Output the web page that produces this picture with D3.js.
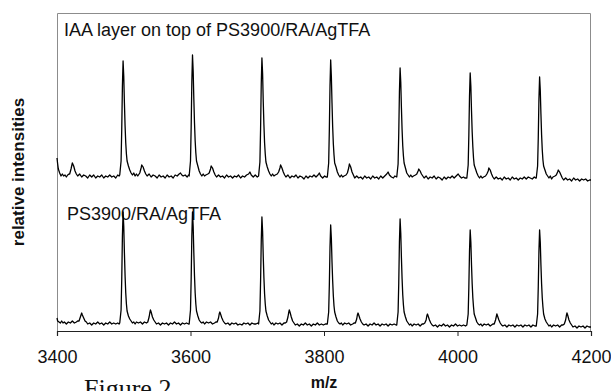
<!DOCTYPE html>
<html>
<head>
<meta charset="utf-8">
<script src="https://cdn.jsdelivr.net/npm/d3@7"></script>
<style>
  html, body { margin: 0; padding: 0; background: #fff; }
  svg { display: block; }
</style>
</head>
<body>
<svg id="chart" width="611" height="391"></svg>
<script>
// ---- Data ----
const xTicks = [3400, 3600, 3800, 4000, 4200];
const seriesLabels = ["IAA layer on top of PS3900/RA/AgTFA", "PS3900/RA/AgTFA"];
const xLabel = "m/z";
const yLabel = "relative intensities";
const caption = "Figure 2";

// upper trace: [m/z, relative intensity (stacked, a.u.)]
const topSpectrum = [
[3400,173],[3401,167],[3402,162],[3404,158],[3406,155],[3408,157],[3410,155],[3412,156],[3414,154],[3416,156],[3418,157],
[3419,157],[3421,162],[3423,168],[3425,165],[3427,160],[3429,157],
[3431,155],[3434,157],[3437,154],[3440,156],[3443,155],[3446,153],[3449,156],[3452,154],[3455,156],[3458,153],[3461,155],[3464,154],[3467,156],[3470,153],[3473,155],[3476,154],[3479,156],[3482,154],[3485,155],[3488,153],[3491,156],[3493,155],
[3494,156],[3496,170],[3497,202],[3498,245],[3499,270],[3500,255],[3501,228],[3502,205],[3503,188],[3504,177],[3505,170],[3507,165],[3509,161],[3511,158],
[3513,156],[3515,158],[3517,155],[3519,157],[3521,155],[3523,157],
[3524,158],[3526,163],[3527,166],[3529,164],[3531,160],[3533,157],
[3535,155],[3538,157],[3541,154],[3544,156],[3547,155],[3550,153],[3553,156],[3556,154],[3559,155],[3562,153],[3565,156],[3568,154],[3571,155],[3574,153],[3577,156],[3580,155],[3583,157],[3585,158],[3587,156],[3589,155],[3592,156],[3595,154],[3597,156],
[3598,155],[3600,170],[3601,204],[3602,249],[3603,276],[3604,260],[3605,232],[3606,208],[3607,190],[3608,178],[3609,170],[3611,165],[3613,160],[3615,157],
[3617,155],[3619,157],[3621,155],[3623,156],[3626,157],
[3628,158],[3630,162],[3631,165],[3633,163],[3635,159],[3637,156],
[3639,154],[3642,156],[3645,154],[3648,155],[3651,153],[3654,156],[3657,154],[3660,155],[3663,153],[3666,155],[3669,154],[3672,156],[3675,153],[3678,155],[3681,154],[3684,156],[3687,157],[3689,159],[3691,156],[3694,154],[3697,156],[3700,154],
[3702,155],[3704,169],[3705,202],[3706,247],[3707,273],[3708,258],[3709,229],[3710,206],[3711,188],[3712,177],[3713,169],[3715,164],[3717,160],[3719,157],
[3721,155],[3723,157],[3725,155],[3727,156],[3730,157],
[3732,159],[3734,163],[3735,166],[3737,163],[3739,159],[3741,156],
[3743,154],[3746,156],[3749,153],[3752,155],[3755,154],[3758,156],[3761,153],[3764,155],[3767,154],[3770,152],[3773,155],[3776,153],[3779,155],[3782,154],[3785,156],[3788,154],[3791,156],[3793,158],[3795,155],[3798,153],[3801,155],[3803,154],
[3805,154],[3807,168],[3808,201],[3809,245],[3810,271],[3811,255],[3812,228],[3813,204],[3814,187],[3815,176],[3816,168],[3818,164],[3820,159],[3822,156],
[3824,154],[3826,156],[3828,154],[3830,155],[3833,156],
[3835,158],[3837,163],[3838,167],[3840,164],[3842,159],[3844,156],
[3846,153],[3849,155],[3852,153],[3855,154],[3858,152],[3861,155],[3864,153],[3867,154],[3870,152],[3873,155],[3876,153],[3879,154],[3882,152],[3885,155],[3888,153],[3891,155],[3894,157],[3896,159],[3898,156],[3901,154],[3904,153],[3906,155],
[3909,154],[3911,167],[3912,198],[3913,239],[3914,263],[3915,249],[3916,223],[3917,201],[3918,185],[3919,175],[3920,168],[3922,163],[3924,158],[3926,156],
[3928,154],[3930,156],[3932,154],[3934,155],[3937,156],
[3939,157],[3941,160],[3942,162],[3944,160],[3946,157],[3948,155],
[3950,153],[3953,155],[3956,152],[3959,154],[3962,153],[3965,155],[3968,152],[3971,154],[3974,153],[3977,151],[3980,154],[3983,152],[3986,154],[3989,153],[3992,155],[3995,153],[3998,155],[4001,157],[4003,155],[4006,153],[4009,154],[4011,153],
[4014,153],[4016,166],[4017,196],[4018,235],[4019,258],[4020,245],[4021,220],[4022,199],[4023,184],[4024,173],[4025,166],[4027,162],[4029,158],[4031,155],
[4033,153],[4035,155],[4037,153],[4039,154],[4042,155],
[4044,157],[4046,160],[4047,163],[4049,161],[4051,157],[4053,154],
[4055,152],[4058,154],[4061,152],[4064,153],[4067,151],[4070,154],[4073,152],[4076,153],[4079,151],[4082,154],[4085,152],[4088,153],[4091,151],[4094,153],[4097,152],[4100,154],[4103,152],[4106,154],[4109,153],[4112,152],[4115,154],[4117,153],
[4118,153],[4120,165],[4121,193],[4122,232],[4123,254],[4124,241],[4125,217],[4126,196],[4127,181],[4128,171],[4129,165],[4131,161],[4133,157],[4135,155],
[4137,153],[4139,155],[4141,152],[4143,154],[4146,155],
[4148,156],[4150,159],[4151,161],[4153,159],[4155,156],[4157,153],
[4159,151],[4162,153],[4165,151],[4168,152],[4171,150],[4174,153],[4177,151],[4180,152],[4183,150],[4186,152],[4189,151],[4192,152],[4195,150],[4198,151],[4200,151]
];

// lower trace
const bottomSpectrum = [
[3400,13],[3401,10],[3403,9],[3405,8],[3407,10],[3409,8],[3411,9],[3414,7],[3417,9],[3420,8],[3423,10],[3426,8],[3429,9],[3431,10],
[3433,10],[3435,14],[3436,16],[3437,18],[3438,16],[3440,13],[3442,10],[3444,9],
[3446,7],[3449,8],[3452,6],[3455,8],[3458,7],[3461,9],[3464,7],[3467,8],[3470,6],[3473,8],[3476,7],[3479,9],[3482,7],[3485,8],[3488,7],[3491,8],[3493,7],
[3494,8],[3496,21],[3497,52],[3498,95],[3499,119],[3500,105],[3501,78],[3502,55],[3503,38],[3504,27],[3505,20],[3507,15],[3509,12],[3511,10],
[3513,8],[3515,9],[3517,7],[3519,9],[3522,8],[3525,9],[3528,7],[3531,9],[3534,8],
[3536,9],[3538,14],[3539,18],[3540,21],[3541,19],[3543,14],[3545,11],[3547,9],
[3549,7],[3552,8],[3555,6],[3558,8],[3561,7],[3564,8],[3567,6],[3570,8],[3573,7],[3576,9],[3579,7],[3582,8],[3585,6],[3588,8],[3591,7],[3594,8],[3597,7],
[3598,7],[3600,21],[3601,52],[3602,95],[3603,119],[3604,105],[3605,78],[3606,55],[3607,38],[3608,27],[3609,20],[3611,15],[3613,11],[3615,9],
[3617,8],[3619,9],[3621,7],[3624,9],[3627,8],[3630,9],[3633,7],[3636,8],[3638,9],
[3640,9],[3642,13],[3643,17],[3644,19],[3645,17],[3647,13],[3649,10],[3651,8],
[3653,7],[3656,8],[3659,6],[3662,8],[3665,7],[3668,8],[3671,6],[3674,7],[3677,6],[3680,8],[3683,7],[3686,8],[3689,6],[3692,8],[3695,7],[3698,7],[3701,8],
[3702,7],[3704,20],[3705,50],[3706,90],[3707,114],[3708,100],[3709,74],[3710,53],[3711,37],[3712,27],[3713,20],[3715,15],[3717,11],[3719,9],
[3721,7],[3723,8],[3725,6],[3728,8],[3731,7],[3734,8],[3737,6],[3740,8],[3742,8],
[3744,9],[3746,14],[3747,18],[3748,21],[3749,19],[3751,14],[3753,10],[3755,8],
[3757,6],[3760,7],[3763,5],[3766,7],[3769,6],[3772,8],[3775,6],[3778,7],[3781,5],[3784,7],[3787,6],[3790,8],[3793,6],[3796,7],[3799,6],[3802,7],[3804,7],
[3805,7],[3807,19],[3808,46],[3809,84],[3810,106],[3811,93],[3812,69],[3813,50],[3814,35],[3815,25],[3816,19],[3818,14],[3820,10],[3822,8],
[3824,7],[3826,8],[3828,6],[3831,8],[3834,7],[3837,8],[3840,6],[3843,7],[3845,8],
[3847,8],[3849,12],[3850,16],[3851,18],[3852,16],[3854,12],[3856,9],[3858,7],
[3860,6],[3863,7],[3866,5],[3869,7],[3872,6],[3875,8],[3878,6],[3881,7],[3884,5],[3887,7],[3890,6],[3893,7],[3896,5],[3899,7],[3902,6],[3905,7],[3908,6],
[3909,6],[3911,19],[3912,48],[3913,89],[3914,112],[3915,98],[3916,73],[3917,52],[3918,36],[3919,26],[3920,19],[3922,14],[3924,10],[3926,8],
[3928,6],[3930,7],[3932,5],[3935,7],[3938,6],[3941,7],[3944,5],[3947,7],[3949,7],
[3951,8],[3953,11],[3954,15],[3955,17],[3956,15],[3958,11],[3960,8],[3962,6],
[3964,5],[3967,6],[3970,4],[3973,6],[3976,5],[3979,7],[3982,5],[3985,6],[3988,4],[3991,6],[3994,5],[3997,7],[4000,5],[4003,6],[4006,5],[4009,6],[4012,5],
[4014,6],[4016,17],[4017,44],[4018,80],[4019,101],[4020,89],[4021,66],[4022,47],[4023,33],[4024,24],[4025,17],[4027,13],[4029,9],[4031,7],
[4033,6],[4035,7],[4037,5],[4040,7],[4043,6],[4046,7],[4049,5],[4051,6],[4053,7],
[4055,7],[4057,11],[4058,14],[4059,17],[4060,15],[4062,11],[4064,8],[4066,6],
[4068,5],[4071,6],[4074,4],[4077,6],[4080,5],[4083,6],[4086,4],[4089,6],[4092,5],[4095,6],[4098,4],[4101,6],[4104,5],[4107,6],[4110,4],[4113,6],[4116,5],
[4118,5],[4120,17],[4121,44],[4122,80],[4123,101],[4124,89],[4125,66],[4126,47],[4127,33],[4128,24],[4129,17],[4131,12],[4133,9],[4135,7],
[4137,5],[4139,6],[4141,4],[4144,6],[4147,5],[4150,6],[4153,4],[4156,6],[4158,6],
[4160,7],[4162,11],[4163,15],[4164,18],[4165,16],[4167,11],[4169,8],[4171,6],
[4173,4],[4176,5],[4179,3],[4182,5],[4185,4],[4188,5],[4191,3],[4194,5],[4197,4],[4200,4]
];

// ---- Layout ----
const plot = { left: 57, right: 591, top: 13, bottom: 331 };

const svg = d3.select("#chart");

const x = d3.scaleLinear().domain([3400, 4200]).range([plot.left, plot.right]);
const y = d3.scaleLinear().domain([0, 318]).range([plot.bottom, plot.top]);

// plot frame (grey, left/top/right)
svg.append("path")
  .attr("d", `M${plot.left + 0.5},${plot.bottom} V${plot.top + 0.5} H${plot.right - 0.5} V${plot.bottom}`)
  .attr("fill", "none")
  .attr("stroke", "#8c8c8c")
  .attr("stroke-width", 1);

// series labels
const FONT = "Arial, 'Liberation Sans', Helvetica, sans-serif";
svg.append("text")
  .attr("x", 64).attr("y", 36)
  .attr("font-family", FONT).attr("font-size", 18).attr("fill", "#111")
  .text(seriesLabels[0]);
svg.append("text")
  .attr("x", 67).attr("y", 220)
  .attr("font-family", FONT).attr("font-size", 18).attr("fill", "#111")
  .text(seriesLabels[1]);

// spectra
const line = d3.line().x(d => x(d[0])).y(d => y(d[1]));
[topSpectrum, bottomSpectrum].forEach(s => {
  svg.append("path")
    .datum(s)
    .attr("d", line)
    .attr("fill", "none")
    .attr("stroke", "#000")
    .attr("stroke-width", 1.3)
    .attr("stroke-linejoin", "round");
});

// x axis
const xAxis = d3.axisBottom(x)
  .tickValues(xTicks)
  .tickSize(5)
  .tickPadding(14)
  .tickFormat(d3.format("d"));
const gx = svg.append("g")
  .attr("transform", `translate(0,${plot.bottom})`)
  .call(xAxis);
gx.select(".domain").attr("stroke", "#222").attr("stroke-width", 1.2);
gx.selectAll(".tick line").attr("stroke", "#222");
gx.selectAll(".tick text")
  .attr("font-family", FONT).attr("font-size", 18).attr("fill", "#111");

// axis titles
svg.append("text")
  .attr("x", 324).attr("y", 388)
  .attr("text-anchor", "middle")
  .attr("font-family", FONT).attr("font-size", 16).attr("font-weight", "bold").attr("fill", "#111")
  .text(xLabel);
svg.append("text")
  .attr("transform", `translate(24,172) rotate(-90)`)
  .attr("text-anchor", "middle")
  .attr("font-family", FONT).attr("font-size", 17).attr("font-weight", "bold").attr("fill", "#111")
  .text(yLabel);

// caption (partially cut off at bottom edge, as in the reference)
svg.append("text")
  .attr("x", 84).attr("y", 397)
  .attr("font-family", "'Times New Roman', 'Liberation Serif', serif")
  .attr("font-size", 26).attr("fill", "#111")
  .text(caption);
</script>
</body>
</html>
